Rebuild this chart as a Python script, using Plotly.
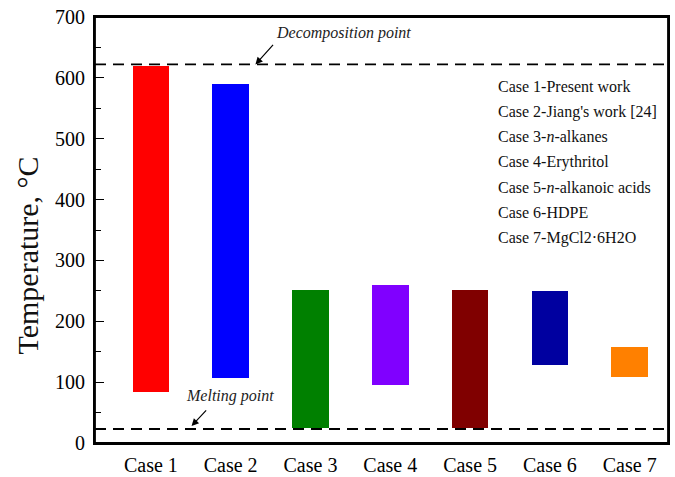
import plotly.graph_objects as go

# Temperature windows of the storage materials
cases = ["Case 1", "Case 2", "Case 3", "Case 4", "Case 5", "Case 6", "Case 7"]
t_low = [84, 107, 24, 96, 24, 128, 108]
t_high = [620, 590, 251, 259, 251, 250, 157]
colors = ["#FF0000", "#0000FF", "#008000", "#8000FF", "#800000", "#0000A0", "#FF8000"]

decomposition_point = 622
melting_point = 23

descriptions = [
    "Case 1-Present work",
    "Case 2-Jiang's work [24]",
    "Case 3-<i>n</i>-alkanes",
    "Case 4-Erythritol",
    "Case 5-<i>n</i>-alkanoic acids",
    "Case 6-HDPE",
    "Case 7-MgCl2·6H2O",
]

x_pos = list(range(1, len(cases) + 1))
FONT = "Liberation Serif, Times New Roman, serif"

fig = go.Figure()
fig.add_trace(go.Bar(
    x=x_pos,
    y=[h - l for l, h in zip(t_low, t_high)],
    base=t_low,
    width=0.46,
    marker=dict(color=colors, line=dict(width=0)),
    showlegend=False,
))

# Reference temperature lines
for level in (decomposition_point, melting_point):
    fig.add_shape(type="line", xref="paper", x0=0, x1=1, yref="y", y0=level, y1=level,
                  line=dict(color="black", width=1.8, dash="11px,7px"))

# Plot frame
fig.add_shape(type="rect", xref="paper", yref="paper", x0=0, x1=1, y0=0, y1=1,
              line=dict(color="black", width=1.8), layer="above")

# Labels for the reference lines
fig.add_annotation(x=2.31, y=decomposition_point, ax=19, ay=-21, text="",
                   showarrow=True, arrowhead=2, arrowsize=1.2, arrowwidth=1.2, arrowcolor="black")
fig.add_annotation(x=2.54, y=decomposition_point, xanchor="left", yanchor="bottom", yshift=20,
                   text="<i>Decomposition point</i>", showarrow=False,
                   font=dict(family=FONT, size=16, color="#222"))
fig.add_annotation(x=1.51, y=melting_point + 5, ax=16, ay=-17, text="",
                   showarrow=True, arrowhead=2, arrowsize=1.2, arrowwidth=1.2, arrowcolor="black")
fig.add_annotation(x=1.42, y=melting_point, xanchor="left", yanchor="bottom", yshift=22,
                   text="<i>Melting point</i>", showarrow=False,
                   font=dict(family=FONT, size=16, color="#222"))

# Case descriptions
for i, txt in enumerate(descriptions):
    fig.add_annotation(xref="paper", yref="paper", x=0.70, y=0.8366 - i * 0.0591,
                       xanchor="left", yanchor="middle", text=txt, showarrow=False,
                       font=dict(family=FONT, size=16, color="#111"))

# Y-axis title
fig.add_annotation(xref="paper", yref="paper", x=-0.117, y=0.44, textangle=-90,
                   xanchor="center", yanchor="middle", text="Temperature, °C", showarrow=False,
                   font=dict(family=FONT, size=30, color="#111"))

fig.update_layout(
    width=675, height=477,
    margin=dict(l=95, r=7, t=17, b=34, autoexpand=False),
    paper_bgcolor="white", plot_bgcolor="white",
    font=dict(family=FONT, color="black"),
    bargap=0,
)
fig.update_xaxes(
    range=[0.30, 7.48],
    tickmode="array", tickvals=x_pos, ticktext=cases,
    tickfont=dict(size=20), ticks="", ticklabelstandoff=3,
    showline=True, linecolor="black", linewidth=1.8, mirror=True,
    showgrid=False, zeroline=False,
)
fig.update_yaxes(
    range=[0, 700], dtick=100,
    ticks="inside", ticklen=9, tickwidth=1.4, tickcolor="black",
    minor=dict(ticks="inside", ticklen=6, dtick=50, tickwidth=1.4, tickcolor="black", showgrid=False),
    tickfont=dict(size=20), ticklabelstandoff=4,
    showline=True, linecolor="black", linewidth=1.8, mirror=True,
    showgrid=False, zeroline=False,
)

fig.write_html("out.html")
